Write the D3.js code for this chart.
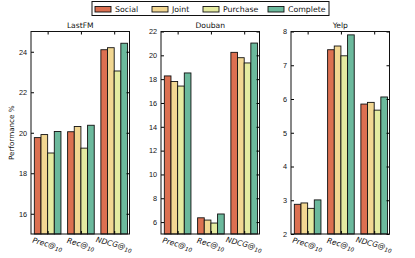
<!DOCTYPE html>
<html>
<head>
<meta charset="utf-8">
<script src="https://cdn.jsdelivr.net/npm/d3@7"></script>
<style>
  body { margin: 0; background: #fff; }
  svg { font-family: "DejaVu Sans", sans-serif; }
</style>
</head>
<body>
<script>
const W = 415, H = 258

const series = ['Social', 'Joint', 'Purchase', 'Complete']
const colors = ['#dc7051', '#f2d792', '#e5eba1', '#6bb99c']
const metrics = ['Prec', 'Rec', 'NDCG']
const datasets = ['LastFM', 'Douban', 'Yelp']

// values per dataset: [metric][series]
const lastfm = [
    [19.76, 19.91, 19.0, 20.06],
    [20.05, 20.31, 19.24, 20.37],
    [24.1, 24.2, 23.05, 24.42]
]
const douban = [
    [18.27, 17.8, 17.42, 18.52],
    [6.36, 6.17, 5.92, 6.68],
    [20.25, 19.8, 19.36, 21.03]
]
const yelp = [
    [2.88, 2.92, 2.76, 3.01],
    [7.46, 7.57, 7.28, 7.9],
    [5.85, 5.9, 5.67, 6.06]
]
const values = [lastfm, douban, yelp]
const yDomains = [[15, 25], [5, 22], [2, 8]]
const yTicks = [[16, 18, 20, 22, 24], [6, 8, 10, 12, 14, 16, 18, 20, 22], [2, 3, 4, 5, 6, 7, 8]]

const lefts = [31, 161, 291]
const pw = 98.5
const plotTop = 31.5, plotBottom = 234

const svg = d3.select('body').append('svg')
    .attr('width', W)
    .attr('height', H)

const barW = 0.2
datasets.forEach((name, k) => {
    const g = svg.append('g').attr('transform', `translate(${lefts[k]},0)`)

    const x = d3.scaleLinear().domain([-0.1, 2.86]).range([0, pw])
    const y = d3.scaleLinear().domain(yDomains[k]).range([plotBottom, plotTop])

    // bars
    values[k].forEach((row, i) => {
        g.selectAll('.b' + i)
            .data(row)
            .enter()
            .append('rect')
            .attr('x', (d, j) => x(i + j * barW))
            .attr('width', x(barW) - x(0))
            .attr('y', d => y(d))
            .attr('height', d => plotBottom - y(d))
            .attr('fill', (d, j) => colors[j])
            .attr('stroke', '#111')
            .attr('stroke-width', 0.9)
    })

    // ticks inside on all sides
    const centers = metrics.map((m, i) => i + 0.4)
    const left = g.append('g')
        .call(d3.axisLeft(y).tickValues(yTicks[k]).tickFormat(d3.format('d')).tickSize(-3).tickPadding(4))
    left.select('.domain').remove()
    left.selectAll('text').style('font-size', '7.3px').attr('fill', '#111')

    const right = g.append('g').attr('transform', `translate(${pw},0)`)
        .call(d3.axisRight(y).tickValues(yTicks[k]).tickSize(-3).tickFormat(''))
    right.select('.domain').remove()

    const topAx = g.append('g').attr('transform', `translate(0,${plotTop})`)
        .call(d3.axisTop(x).tickValues(centers).tickSize(-3).tickFormat(''))
    topAx.select('.domain').remove()

    const bot = g.append('g').attr('transform', `translate(0,${plotBottom})`)
        .call(d3.axisBottom(x).tickValues(centers).tickSize(-3).tickFormat(''))
    bot.select('.domain').remove()

    // rotated category labels like Prec@10
    centers.forEach((c, i) => {
        const t = g.append('text')
            .attr('transform', `translate(${x(c)},${plotBottom + 10}) rotate(15)`)
            .attr('text-anchor', 'middle')
            .attr('dy', '0.35em')
            .style('font-size', '7.5px')
            .style('font-style', 'italic')
            .attr('fill', '#111')
        t.append('tspan').text(metrics[i] + '@')
        t.append('tspan').text('10').attr('dy', '1.8').style('font-size', '5.6px')
    })

    // frame
    g.append('rect')
        .attr('x', 0).attr('y', plotTop)
        .attr('width', pw).attr('height', plotBottom - plotTop)
        .attr('fill', 'none')
        .attr('stroke', '#111')
        .attr('stroke-width', 1)

    g.append('text')
        .attr('x', pw / 2)
        .attr('y', plotTop - 4)
        .attr('text-anchor', 'middle')
        .style('font-size', '7.6px')
        .attr('fill', '#111')
        .text(name)
})

svg.append('text')
    .attr('transform', `translate(14,${(plotTop + plotBottom) / 2}) rotate(-90)`)
    .attr('text-anchor', 'middle')
    .style('font-size', '7.2px')
    .attr('fill', '#111')
    .text('Performance %')

// legend
const legend = svg.append('g')
legend.append('rect')
    .attr('x', 92).attr('y', 1.5)
    .attr('width', 237).attr('height', 14)
    .attr('fill', '#fff')
    .attr('stroke', '#111')
    .attr('stroke-width', 1)

const legX = [95, 152, 203, 268]
series.forEach((s, j) => {
    legend.append('rect')
        .attr('x', legX[j]).attr('y', 6.5)
        .attr('width', 16).attr('height', 5.5)
        .attr('fill', colors[j])
        .attr('stroke', '#111')
        .attr('stroke-width', 0.9)
    legend.append('text')
        .attr('x', legX[j] + 20)
        .attr('y', 12)
        .style('font-size', '7.8px')
        .attr('fill', '#111')
        .text(s)
})
</script>
</body>
</html>
